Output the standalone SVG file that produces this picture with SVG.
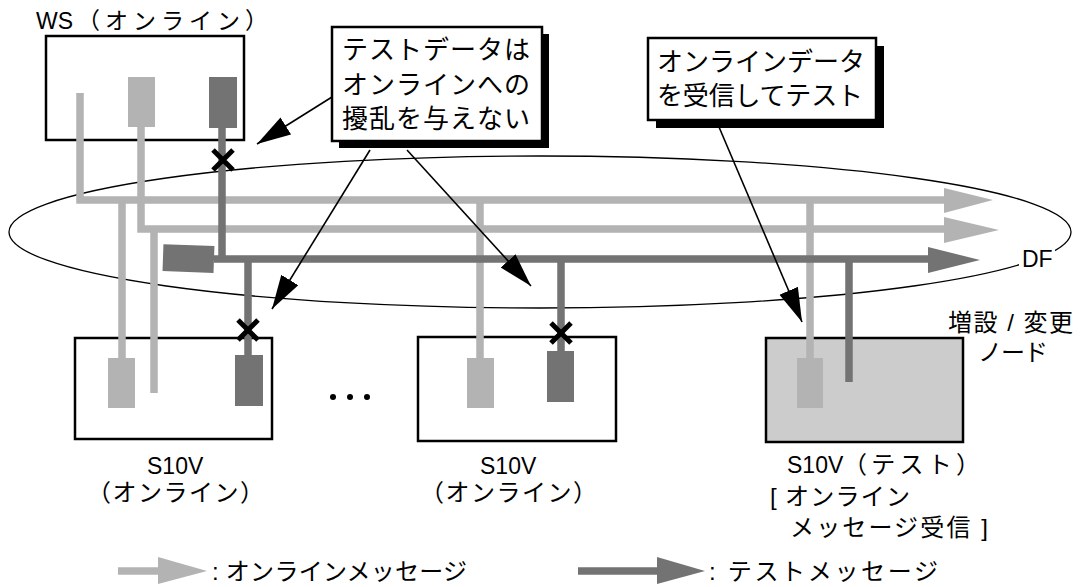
<svg xmlns="http://www.w3.org/2000/svg" width="1082" height="587" viewBox="0 0 1082 587">
<style>
.t{font-family:"Liberation Sans","Noto Sans CJK JP",sans-serif;font-size:23px;fill:#000}
.big{font-size:26px}
.md{font-size:24px}
.box{fill:#fff;stroke:#000;stroke-width:2.5}
.lt{stroke:#b3b3b3;stroke-width:7.5;fill:none;stroke-linejoin:miter}
.dk{stroke:#737373;stroke-width:7.5;fill:none;stroke-linejoin:miter}
.ltf{fill:#b3b3b3}
.dkf{fill:#737373}
.lead{stroke:#000;stroke-width:1.6;fill:none;marker-end:url(#ah)}
.x{stroke:#000;stroke-width:5;fill:none}
</style>
<defs>
<marker id="ah" markerUnits="userSpaceOnUse" markerWidth="36" markerHeight="22" refX="34" refY="10" orient="auto">
<path d="M0,0 L34,10 L0,20 z" fill="#000"/>
</marker>
</defs>
<rect width="1082" height="587" fill="#fff"/>

<g id="df">
<ellipse cx="540" cy="232" rx="531" ry="76" fill="none" stroke="#000" stroke-width="1.3"/>
<rect x="1019" y="246" width="36" height="24" fill="#fff"/>
<text class="t" x="1022" y="267">DF</text>
</g>

<g id="node-ws">
<text class="t" x="36" y="29">WS</text>
<text class="t" x="77" y="29" textLength="191" lengthAdjust="spacing">（オンライン）</text>
<rect class="box" x="46" y="36" width="198" height="104"/>
<rect class="ltf" x="128" y="77" width="27" height="50"/>
<rect class="dkf" x="209" y="77" width="28" height="51"/>
</g>

<g id="node-s10v-1">
<rect class="box" x="75" y="338" width="197" height="101"/>
<rect class="ltf" x="108" y="358" width="27" height="50"/>
<rect class="dkf" x="235" y="355" width="28" height="51"/>
<text class="t" x="147" y="474">S10V</text>
<text class="t md" x="87" y="501" textLength="177" lengthAdjust="spacing">（オンライン）</text>
</g>

<g id="ellipsis">
<circle cx="333" cy="397" r="3"/>
<circle cx="350" cy="397" r="3"/>
<circle cx="367" cy="397" r="3"/>
</g>

<g id="node-s10v-2">
<rect class="box" x="418" y="337" width="198" height="104"/>
<rect class="ltf" x="467" y="358" width="27" height="50"/>
<rect class="dkf" x="547" y="351" width="27" height="51"/>
<text class="t" x="480" y="474">S10V</text>
<text class="t md" x="420" y="501" textLength="177" lengthAdjust="spacing">（オンライン）</text>
</g>

<g id="node-s10v-test">
<rect x="766" y="338" width="197" height="104" fill="#cccccc" stroke="#000" stroke-width="2.5"/>
<rect class="ltf" x="797" y="358" width="26" height="50"/>
<text class="t md" x="948" y="331" textLength="125" lengthAdjust="spacing">増設 / 変更</text>
<text class="t md" x="978" y="361" textLength="70" lengthAdjust="spacing">ノード</text>
<text class="t" x="787" y="473">S10V</text>
<text class="t md" x="843" y="473" textLength="137" lengthAdjust="spacing">（テスト）</text>
<text class="t md" x="770" y="505">[</text>
<text class="t md" x="785" y="505" textLength="125" lengthAdjust="spacing">オンライン</text>
<text class="t md" x="790" y="536" textLength="198" lengthAdjust="spacing">メッセージ受信 ]</text>
</g>

<g id="connectors">
<path class="lt" d="M80,93 V200 H946"/>
<path class="lt" d="M141,127 V229 H946"/>
<path class="lt" d="M122,200 V358 M154,229 V393 M480,200 V358 M810,200 V358"/>
<polygon class="ltf" points="944,188 993,200 944,213"/>
<polygon class="ltf" points="944,217 999,230 944,243"/>
<path class="dk" d="M222,128 V259 M214,259 H930"/>
<path class="dk" d="M248,259 V355 M561,259 V351 M849,259 V382"/>
<polygon class="dkf" points="928,247 980,260 928,273"/>
<rect class="dkf" x="163" y="245" width="51" height="27" transform="rotate(2 188 258)"/>
<path class="x" d="M213,150 L233,170 M233,150 L213,170"/>
<path class="x" d="M238,320 L258,340 M258,320 L238,340"/>
<path class="x" d="M551,323 L571,343 M571,323 L551,343"/>
<line class="lead" x1="332" y1="97" x2="257" y2="144"/>
<line class="lead" x1="370" y1="150" x2="272" y2="309"/>
<line class="lead" x1="407" y1="150" x2="531" y2="286"/>
<line class="lead" x1="719" y1="127" x2="802" y2="322"/>
</g>

<g id="callout-1">
<rect x="339" y="34" width="210" height="114" fill="#000"/>
<rect class="box" x="332" y="27" width="210" height="114"/>
<text class="t big" x="342" y="59" textLength="188" lengthAdjust="spacing">テストデータは</text>
<text class="t big" x="342" y="94" textLength="188" lengthAdjust="spacing">オンラインへの</text>
<text class="t big" x="342" y="128" textLength="188" lengthAdjust="spacing">擾乱を与えない</text>
</g>

<g id="callout-2">
<rect x="656" y="46" width="228" height="82" fill="#000"/>
<rect class="box" x="648" y="38" width="228" height="82"/>
<text class="t big" x="657" y="71" textLength="208" lengthAdjust="spacing">オンラインデータ</text>
<text class="t big" x="657" y="105" textLength="206" lengthAdjust="spacing">を受信してテスト</text>
</g>

<g id="legend">
<path class="lt" d="M118,571 H160"/>
<polygon class="ltf" points="158,557 207,571 158,584"/>
<text class="t md" x="212" y="580" textLength="255" lengthAdjust="spacing">: オンラインメッセージ</text>
<path class="dk" d="M578,571 H659"/>
<polygon class="dkf" points="657,557 705,571 657,584"/>
<text class="t md" x="709" y="580" textLength="229" lengthAdjust="spacing">: テストメッセージ</text>
</g>
</svg>
